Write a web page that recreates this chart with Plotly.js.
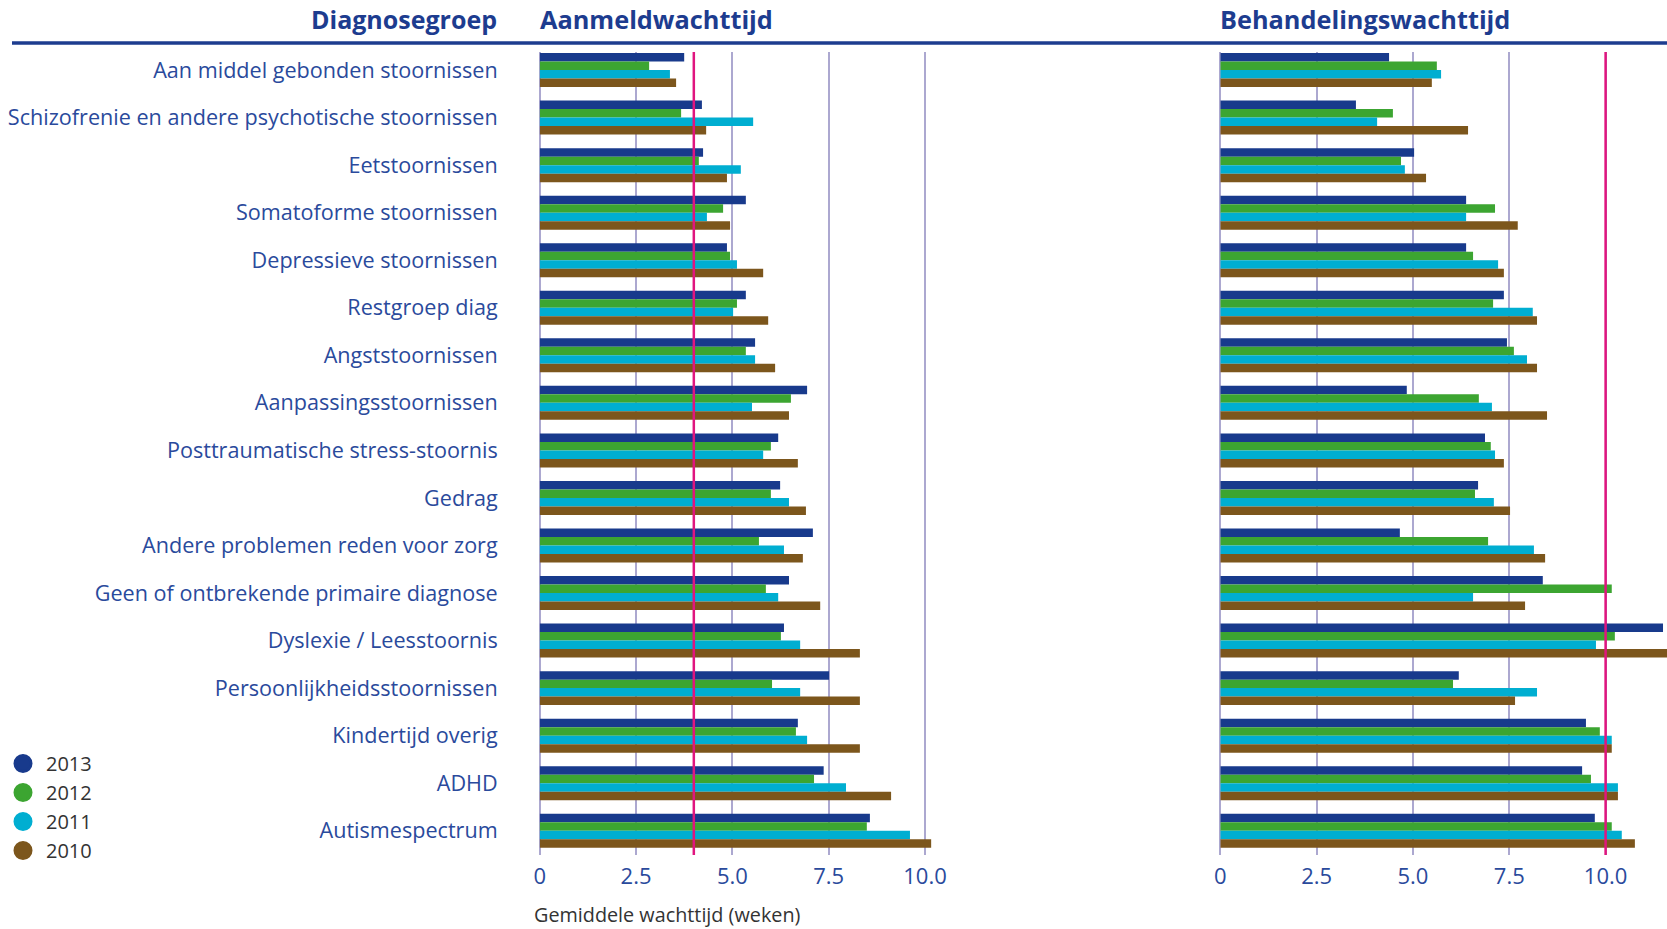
<!DOCTYPE html>
<html>
<head>
<meta charset="utf-8">
<script src="https://cdn.plot.ly/plotly-3.0.1.min.js"></script>
<style>
  html, body { margin: 0; padding: 0; background: #ffffff; }
  #chart { width: 1667px; height: 929px; }
</style>
</head>
<body>
<div id="chart"></div>
<script>
// ---------- data ----------
const categories = [
  "Aan middel gebonden stoornissen",
  "Schizofrenie en andere psychotische stoornissen",
  "Eetstoornissen",
  "Somatoforme stoornissen",
  "Depressieve stoornissen",
  "Restgroep diag",
  "Angststoornissen",
  "Aanpassingsstoornissen",
  "Posttraumatische stress-stoornis",
  "Gedrag",
  "Andere problemen reden voor zorg",
  "Geen of ontbrekende primaire diagnose",
  "Dyslexie / Leesstoornis",
  "Persoonlijkheidsstoornissen",
  "Kindertijd overig",
  "ADHD",
  "Autismespectrum"
];

const years = ["2013", "2012", "2011", "2010"];

// Aanmeldwachttijd (weeks)
const aanmeld2013 = [3.75, 4.21, 4.24, 5.35, 4.86, 5.35, 5.59, 6.94, 6.19, 6.24, 7.09, 6.47, 6.34, 7.51, 6.70, 7.37, 8.57];
const aanmeld2012 = [2.84, 3.67, 4.13, 4.76, 4.94, 5.12, 5.35, 6.52, 6.00, 6.00, 5.69, 5.87, 6.26, 6.03, 6.65, 7.12, 8.49];
const aanmeld2011 = [3.38, 5.54, 5.22, 4.34, 5.12, 5.02, 5.59, 5.51, 5.80, 6.47, 6.34, 6.19, 6.76, 6.76, 6.94, 7.95, 9.61];
const aanmeld2010 = [3.54, 4.32, 4.86, 4.94, 5.80, 5.93, 6.11, 6.47, 6.70, 6.91, 6.83, 7.28, 8.31, 8.31, 8.31, 9.12, 10.16];

// Behandelingswachttijd (weeks)
const behandel2013 = [4.38, 3.52, 5.03, 6.38, 6.38, 7.36, 7.44, 4.84, 6.87, 6.69, 4.66, 8.37, 11.49, 6.19, 9.49, 9.39, 9.72];
const behandel2012 = [5.62, 4.48, 4.69, 7.13, 6.56, 7.08, 7.62, 6.71, 7.02, 6.61, 6.95, 10.16, 10.24, 6.04, 9.85, 9.62, 10.16];
const behandel2011 = [5.73, 4.07, 4.79, 6.38, 7.21, 8.11, 7.96, 7.05, 7.13, 7.10, 8.14, 6.56, 9.75, 8.22, 10.16, 10.32, 10.42];
const behandel2010 = [5.49, 6.43, 5.34, 7.72, 7.36, 8.22, 8.22, 8.48, 7.36, 7.52, 8.43, 7.91, 12.00, 7.65, 10.16, 10.32, 10.76];

// norm lines (weeks)
const normAanmeld = 4;
const normBehandel = 10;

// axis ticks
const tickValues = [0, 2.5, 5, 7.5, 10];
const tickLabels = ["0", "2.5", "5.0", "7.5", "10.0"];

// ---------- styling ----------
const yearColors = ["#183a8c", "#3ca531", "#00aed1", "#7c561c"];
const labelBlue = "#2a4a9c";
const headBlue = "#1d3c8f";
const gridCol = "#aca8d0";
const normCol = "#e0157f";
const FONT = "Open Sans, Noto Sans, sans-serif";

const aanmeldSeries = [aanmeld2013, aanmeld2012, aanmeld2011, aanmeld2010];
const behandelSeries = [behandel2013, behandel2012, behandel2011, behandel2010];

const W = 1667, H = 929;
const pxPerWeek = 38.53;
const leftZero = 539.7, rightZero = 1220.3;
const leftMax = 10.5;
const rightMax = (W - rightZero) / pxPerWeek;
const plotTop = 52, plotBottom = 855;
const yDomain = [1 - plotBottom / H, 1 - plotTop / H];

const traces = [];
years.forEach((yr, i) => {
  traces.push({
    type: "bar", orientation: "h", name: yr,
    x: aanmeldSeries[i], y: categories,
    xaxis: "x", yaxis: "y",
    marker: { color: yearColors[i], line: { width: 0 } },
    showlegend: false, hoverinfo: "x+y+name"
  });
});
years.forEach((yr, i) => {
  traces.push({
    type: "bar", orientation: "h", name: yr,
    x: behandelSeries[i], y: categories,
    xaxis: "x2", yaxis: "y2",
    marker: { color: yearColors[i], line: { width: 0 } },
    showlegend: false, hoverinfo: "x+y+name"
  });
});
// legend entries (round markers)
years.forEach((yr, i) => {
  traces.push({
    type: "scatter", mode: "markers", name: yr,
    x: [null], y: [null], xaxis: "x", yaxis: "y",
    marker: { color: yearColors[i], size: 16, line: { width: 3, color: yearColors[i] } },
    showlegend: true, hoverinfo: "skip"
  });
});

const xCommon = {
  tickvals: tickValues, ticktext: tickLabels,
  showgrid: true, gridcolor: gridCol, gridwidth: 2,
  zeroline: true, zerolinecolor: gridCol, zerolinewidth: 2,
  showline: false, ticks: "",
  ticklabelstandoff: 6,
  tickfont: { family: FONT, size: 22, color: labelBlue },
  fixedrange: true
};

const layout = {
  width: W, height: H,
  margin: { l: 0, r: 0, t: 0, b: 0, pad: 0, autoexpand: false },
  paper_bgcolor: "#ffffff", plot_bgcolor: "rgba(0,0,0,0)",
  barmode: "group", bargap: 0.285, bargroupgap: 0,
  font: { family: FONT, color: "#333333" },
  showlegend: true,
  legend: {
    x: 0, y: 1 - 744 / H, xanchor: "left", yanchor: "top",
    font: { family: FONT, size: 20, color: "#333333" },
    bgcolor: "rgba(0,0,0,0)", borderwidth: 0,
    itemwidth: 36, traceorder: "normal"
  },
  xaxis: Object.assign({}, xCommon, {
    domain: [leftZero / W, (leftZero + leftMax * pxPerWeek) / W],
    range: [0, leftMax], anchor: "y"
  }),
  xaxis2: Object.assign({}, xCommon, {
    domain: [rightZero / W, 1],
    range: [0, rightMax], anchor: "y2"
  }),
  yaxis: {
    type: "category", categoryorder: "array", categoryarray: categories,
    range: [16.51, -0.38], domain: yDomain, anchor: "x",
    showgrid: false, zeroline: false, showline: false, ticks: "",
    ticklabelstandoff: 41,
    ticklabelshift: -2.5,
    tickfont: { family: FONT, size: 21.6, color: labelBlue },
    fixedrange: true
  },
  yaxis2: {
    type: "category", categoryorder: "array", categoryarray: categories,
    range: [16.51, -0.38], domain: yDomain, anchor: "x2",
    showgrid: false, zeroline: false, showline: false, ticks: "",
    showticklabels: false, fixedrange: true
  },
  shapes: [
    { type: "line", xref: "paper", yref: "paper",
      x0: 12 / W, x1: 1, y0: 1 - 43 / H, y1: 1 - 43 / H,
      line: { color: headBlue, width: 3.5 } },
    { type: "line", xref: "x", yref: "paper",
      x0: normAanmeld, x1: normAanmeld, y0: yDomain[0], y1: yDomain[1],
      line: { color: normCol, width: 2.5 }, layer: "above" },
    { type: "line", xref: "x2", yref: "paper",
      x0: normBehandel, x1: normBehandel, y0: yDomain[0], y1: yDomain[1],
      line: { color: normCol, width: 2.5 }, layer: "above" }
  ],
  annotations: [
    { text: "Diagnosegroep", xref: "paper", yref: "paper",
      x: 499 / W, y: 1 - 18.5 / H, xanchor: "right", yanchor: "middle", showarrow: false,
      font: { family: FONT, size: 25, color: headBlue, weight: 700 } },
    { text: "Aanmeldwachttijd", xref: "paper", yref: "paper",
      x: 538 / W, y: 1 - 18.5 / H, xanchor: "left", yanchor: "middle", showarrow: false,
      font: { family: FONT, size: 25.3, color: headBlue, weight: 700 } },
    { text: "Behandelingswachttijd", xref: "paper", yref: "paper",
      x: 1218 / W, y: 1 - 18.5 / H, xanchor: "left", yanchor: "middle", showarrow: false,
      font: { family: FONT, size: 25.3, color: headBlue, weight: 700 } },
    { text: "Gemiddele wachttijd (weken)", xref: "paper", yref: "paper",
      x: 532 / W, y: 1 - 914 / H, xanchor: "left", yanchor: "middle", showarrow: false,
      font: { family: FONT, size: 19.8, color: "#333333" } }
  ]
};

Plotly.newPlot("chart", traces, layout, { displayModeBar: false, staticPlot: true });
</script>
</body>
</html>
